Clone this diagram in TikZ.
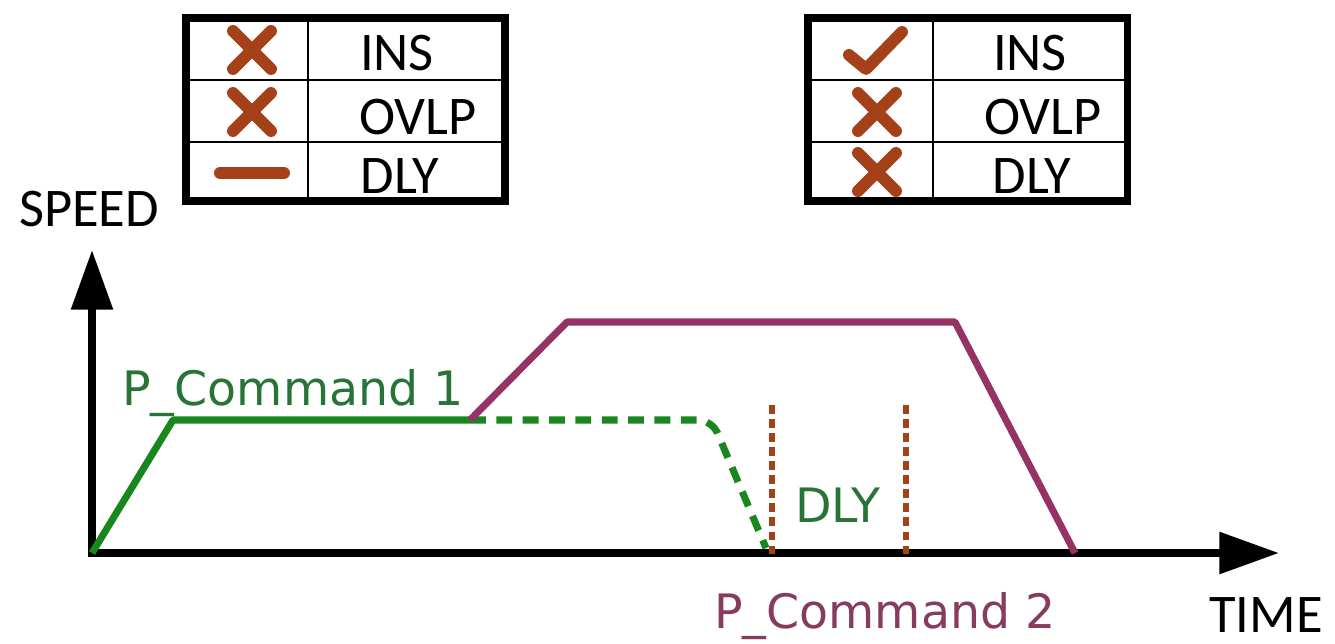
\documentclass[tikz,border=0pt]{standalone}
\usepackage{fontspec}
\setmainfont{Carlito}
\newfontfamily\vfont{DejaVu Sans}
\usetikzlibrary{arrows.meta}
\definecolor{mkbrown}{RGB}{165,65,25}
\definecolor{cgreen}{RGB}{25,135,30}
\definecolor{tgreen}{RGB}{40,115,55}
\definecolor{cpurple}{RGB}{150,50,100}
\definecolor{tpurple}{RGB}{135,60,95}
\tikzset{
  outerframe/.style={line width=4pt},
  innerrule/.style={line width=1.4pt},
  markstroke/.style={mkbrown,line width=6.8pt,line cap=round,line join=round},
  celltext/.style={font=\fontsize{31}{31}\selectfont,anchor=base,inner sep=0pt},
  axislbl/.style={font=\fontsize{31}{31}\selectfont,anchor=base,inner sep=0pt},
  axisline/.style={line width=4.5pt,-{Triangle[length=34pt,width=23pt]}},
  gline/.style={cgreen,line width=4pt,line join=round},
  pline/.style={cpurple,line width=4pt,line join=round},
  vdot/.style={mkbrown,line width=3.8pt,dash pattern=on 5pt off 3pt},
  vtext/.style={font=\vfont\fontsize{27}{27}\selectfont,inner sep=0pt},
}
\begin{document}
\begin{tikzpicture}[x=0.02cm,y=-0.02cm]
\useasboundingbox (0,0) rectangle (1335,643);
% left table
\draw[innerrule] (308,18) -- (308,201);
\draw[innerrule] (186,80) -- (505,80);
\draw[innerrule] (186,142) -- (505,142);
\draw[outerframe] (186,18) rectangle (505,201);
\draw[markstroke] (233,31) -- (271,69);
\draw[markstroke] (271,31) -- (233,69);
\draw[markstroke] (233,93) -- (271,131);
\draw[markstroke] (271,93) -- (233,131);
\draw[markstroke] (220,173) -- (284,173);
\node[celltext] (l1) at (397,70) {INS};
\node[celltext] (l2) at (418,134) {OVLP};
\node[celltext] (l3) at (400,193) {DLY};
% right table
\draw[innerrule] (933,18) -- (933,201);
\draw[innerrule] (808,80) -- (1127,80);
\draw[innerrule] (808,142) -- (1127,142);
\draw[outerframe] (808,18) rectangle (1127,201);
\draw[markstroke] (849,55) -- (866,69) -- (902,32);
\draw[markstroke] (858,93) -- (896,131);
\draw[markstroke] (896,93) -- (858,131);
\draw[markstroke] (858,153) -- (896,191);
\draw[markstroke] (896,153) -- (858,191);
\node[celltext] (r1) at (1030,70) {INS};
\node[celltext] (r2) at (1043,134) {OVLP};
\node[celltext] (r3) at (1032,193) {DLY};
% axes
\coordinate (o) at (92,553);
\coordinate (ytip) at (92,250);
\coordinate (xtip) at (1279,553);
\draw[axisline] (92,557) -- (ytip);
\draw[axisline] (88,553) -- (xtip);
\node[axislbl] (speed) at (89,226) {SPEED};
\node[axislbl] (time) at (1266,632) {TIME};
% green profile
\coordinate (g1) at (173,420);
\coordinate (g2) at (470,420);
\coordinate (g3) at (712,420);
\coordinate (g4) at (766,548);
\draw[gline] (o) -- (g1) -- (g2);
\draw[gline,dash pattern=on 9pt off 6pt,rounded corners=8pt] (g2) -- (g3) -- (g4);
% purple profile
\coordinate (p1) at (567,322);
\coordinate (p2) at (955,322);
\coordinate (p3) at (1075,553);
\draw[pline] (g2) -- (p1) -- (p2) -- (p3);
% delay markers
\coordinate (d1t) at (772,405);
\coordinate (d1b) at (772,555);
\coordinate (d2t) at (906,405);
\coordinate (d2b) at (906,555);
\draw[vdot] (d1t) -- (d1b);
\draw[vdot] (d2t) -- (d2b);
% labels
\node[vtext,text=tgreen,anchor=base west] (pc1) at (122,405) {P\_Command 1};
\node[vtext,text=tgreen,anchor=base] (dly) at (838,522) {DLY};
\node[vtext,text=tpurple,anchor=base] (pc2) at (885,628) {P\_Command 2};
\end{tikzpicture}
\end{document}
